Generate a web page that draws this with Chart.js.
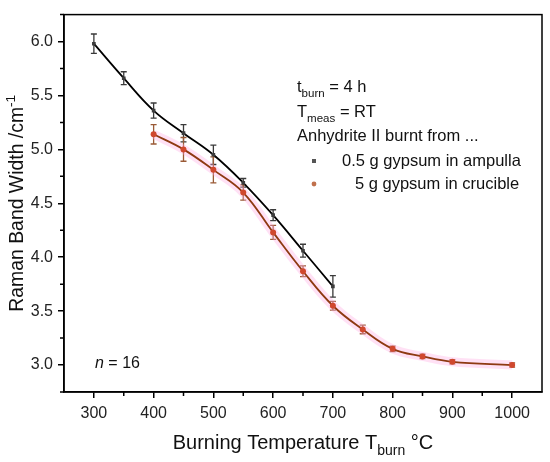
<!DOCTYPE html>
<html>
<head>
<meta charset="utf-8">
<script src="https://cdn.jsdelivr.net/npm/chart.js@4.4.0/dist/chart.umd.min.js"></script>
<style>
  html, body { margin: 0; padding: 0; background: #fff; }
  #wrap { width: 550px; height: 462px; }
</style>
</head>
<body>
<div id="wrap"><canvas id="chart" width="550" height="462"></canvas></div>
<script>
// === DATA ===
const tempsAmpulla = [300, 350, 400, 450, 500, 550, 600, 650, 700];
const widthAmpulla = [5.98, 5.66, 5.36, 5.15, 4.95, 4.69, 4.39, 4.06, 3.73];
const errAmpulla   = [0.09, 0.06, 0.07, 0.08, 0.09, 0.04, 0.05, 0.06, 0.10];

const tempsCrucible = [400, 450, 500, 550, 600, 650, 700, 750, 800, 850, 900, 1000];
const widthCrucible = [5.14, 5.00, 4.81, 4.60, 4.23, 3.87, 3.55, 3.33, 3.15, 3.08, 3.03, 3.00];
const errCrucible   = [0.09, 0.11, 0.12, 0.07, 0.065, 0.05, 0.04, 0.04, 0.025, 0.02, 0.02, 0.02];

const xTicks = [300, 400, 500, 600, 700, 800, 900, 1000];
const xMinorTicks = [350, 450, 550, 650, 750, 850, 950];
const yTicks = [3.0, 3.5, 4.0, 4.5, 5.0, 5.5, 6.0];
const yMinorTicks = [2.75, 3.25, 3.75, 4.25, 4.75, 5.25, 5.75, 6.25];

const FONT = "'Liberation Sans', Arial, sans-serif";

const toXY = (xs, ys) => xs.map((x, i) => ({ x: x, y: ys[i] }));

// draws text made of pieces, some as sub- or superscript
function drawRich(ctx, parts, x, y, size) {
    let cx = x;
    parts.forEach(p => {
        const s = p.sub || p.sup ? size * 0.7 : size;
        const dy = p.sub ? size * 0.28 : (p.sup ? -size * 0.4 : 0);
        ctx.font = (p.italic ? "italic " : "") + s + "px " + FONT;
        ctx.fillText(p.t, cx, y + dy);
        cx += ctx.measureText(p.t).width;
    });
    return cx - x;
}
function richWidth(ctx, parts, size) {
    let w = 0;
    parts.forEach(p => {
        const s = p.sub || p.sup ? size * 0.7 : size;
        ctx.font = (p.italic ? "italic " : "") + s + "px " + FONT;
        w += ctx.measureText(p.t).width;
    });
    return w;
}

const errorBars = {
    id: "errorBars",
    beforeDatasetsDraw(chart) {
        const ctx = chart.ctx;
        const xs = chart.scales.x, ys = chart.scales.y;
        const sets = [
            [tempsAmpulla, widthAmpulla, errAmpulla, "#3a3a3a"],
            [tempsCrucible, widthCrucible, errCrucible, "#9a5a36"],
        ];
        ctx.save();
        ctx.lineWidth = 1.3;
        sets.forEach(([tx, wy, er, col]) => {
            ctx.strokeStyle = col;
            tx.forEach((t, i) => {
                const px = xs.getPixelForValue(t);
                const top = ys.getPixelForValue(wy[i] + er[i]);
                const bot = ys.getPixelForValue(wy[i] - er[i]);
                ctx.beginPath();
                ctx.moveTo(px, top); ctx.lineTo(px, bot);
                ctx.moveTo(px - 3, top); ctx.lineTo(px + 3, top);
                ctx.moveTo(px - 3, bot); ctx.lineTo(px + 3, bot);
                ctx.stroke();
            });
        });
        ctx.restore();
    },
};

const decorations = {
    id: "decorations",
    afterDraw(chart) {
        const ctx = chart.ctx;
        const a = chart.chartArea;
        const xs = chart.scales.x, ys = chart.scales.y;
        ctx.save();
        // frame
        ctx.strokeStyle = "#000";
        ctx.lineWidth = 1.5;
        ctx.strokeRect(a.left, a.top, a.right - a.left, a.bottom - a.top);
        // minor ticks
        ctx.beginPath();
        xMinorTicks.forEach(v => {
            const px = xs.getPixelForValue(v);
            ctx.moveTo(px, a.bottom); ctx.lineTo(px, a.bottom + 4);
        });
        yMinorTicks.forEach(v => {
            const py = ys.getPixelForValue(v);
            ctx.moveTo(a.left, py); ctx.lineTo(a.left - 4, py);
        });
        ctx.stroke();

        ctx.fillStyle = "#111";
        ctx.textBaseline = "alphabetic";
        ctx.textAlign = "left";
        // annotation text
        const fs = 16.5;
        drawRich(ctx, [{ t: "t" }, { t: "burn", sub: true }, { t: " = 4 h" }], 297, 92, fs);
        drawRich(ctx, [{ t: "T" }, { t: "meas", sub: true }, { t: " = RT" }], 297, 117, fs);
        drawRich(ctx, [{ t: "Anhydrite II burnt from ..." }], 297, 141, fs);
        drawRich(ctx, [{ t: "0.5 g gypsum in ampulla" }], 342, 166, fs);
        drawRich(ctx, [{ t: "5 g gypsum in crucible" }], 355, 189, fs);
        ctx.fillStyle = "#555";
        ctx.fillRect(312, 159, 4, 4);
        ctx.fillStyle = "#c0704c";
        ctx.beginPath(); ctx.arc(314, 184, 2.4, 0, Math.PI * 2); ctx.fill();

        ctx.fillStyle = "#111";
        drawRich(ctx, [{ t: "n", italic: true }, { t: " = 16" }], 95, 368, 16);

        // axis titles
        const xt = [{ t: "Burning Temperature T" }, { t: "burn", sub: true }, { t: " \u00B0C" }];
        const xw = richWidth(ctx, xt, 20);
        drawRich(ctx, xt, (a.left + a.right) / 2 - xw / 2, 449, 20);

        const yt = [{ t: "Raman Band Width /cm" }, { t: "-1", sup: true }];
        const yw = richWidth(ctx, yt, 19.4);
        ctx.translate(23, (a.top + a.bottom) / 2);
        ctx.rotate(-Math.PI / 2);
        drawRich(ctx, yt, -yw / 2, 0, 19.4);
        ctx.restore();
    },
};

const ctx = document.getElementById("chart").getContext("2d");
const chart = new Chart(ctx, {
    type: "line",
    data: {
        datasets: [
            {
                label: "0.5 g gypsum in ampulla",
                data: toXY(tempsAmpulla, widthAmpulla),
                borderColor: "#000",
                borderWidth: 1.8,
                tension: 0.4,
                pointStyle: "rect",
                pointRadius: 2.6,
                pointBackgroundColor: "#3c3c3c",
                pointBorderColor: "#3c3c3c",
                pointBorderWidth: 0,
                order: 1,
            },
            {
                label: "5 g gypsum in crucible",
                data: toXY(tempsCrucible, widthCrucible),
                borderColor: "#8e3a12",
                borderWidth: 1.8,
                tension: 0.4,
                pointStyle: "circle",
                pointRadius: 3,
                pointBackgroundColor: "#d0482e",
                pointBorderColor: "#d0482e",
                pointBorderWidth: 0,
                order: 2,
            },
            {
                label: "halo",
                data: toXY(tempsCrucible, widthCrucible),
                borderColor: "rgba(255, 170, 225, 0.35)",
                borderWidth: 9,
                tension: 0.4,
                pointRadius: 0,
                order: 3,
            },
        ],
    },
    options: {
        responsive: false,
        animation: false,
        layout: { padding: { top: 7, right: 8, left: 0, bottom: 0 } },
        plugins: {
            legend: { display: false },
            tooltip: { enabled: false },
        },
        scales: {
            x: {
                type: "linear",
                min: 250,
                max: 1050,
                afterBuildTicks: s => { s.ticks = xTicks.map(v => ({ value: v })); },
                afterFit: s => { s.height = 70; },
                grid: { drawOnChartArea: false, drawTicks: true, tickLength: 6, color: "#000", lineWidth: 1.5 },
                border: { color: "#000", width: 1.5 },
                ticks: { color: "#222", padding: 6, font: { family: FONT, size: 16 }, maxRotation: 0, callback: v => String(v) },
            },
            y: {
                min: 2.75,
                max: 6.25,
                afterBuildTicks: s => { s.ticks = yTicks.map(v => ({ value: v })); },
                afterFit: s => { s.width = 64; },
                grid: { drawOnChartArea: false, drawTicks: true, tickLength: 6, color: "#000", lineWidth: 1.5 },
                border: { color: "#000", width: 1.5 },
                ticks: { color: "#222", padding: 5, font: { family: FONT, size: 16 }, callback: v => v.toFixed(1) },
            },
        },
    },
    plugins: [errorBars, decorations],
});
</script>
</body>
</html>
